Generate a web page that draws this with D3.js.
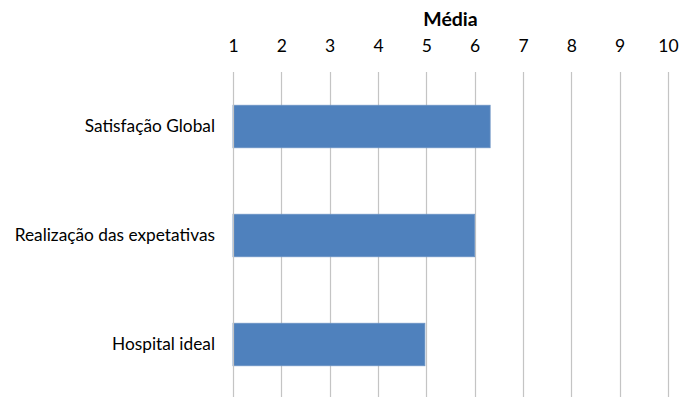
<!DOCTYPE html>
<html>
<head>
<meta charset="utf-8">
<script src="https://cdn.jsdelivr.net/npm/d3@7"></script>
<style>
  html, body { margin: 0; padding: 0; background: #fff; }
  svg { display: block; font-family: Lato, "Open Sans", sans-serif; }
</style>
</head>
<body>
<svg id="chart" width="679" height="397"></svg>
<script>
// Mean scores per item (scale 1–10)
const categories = ["Satisfação Global", "Realização das expetativas", "Hospital ideal"];
const values = [6.32, 6.0, 4.97];
const tickValues = [1, 2, 3, 4, 5, 6, 7, 8, 9, 10];
const axisTitle = "Média";

const svg = d3.select("#chart");
const margin = { top: 72, left: 233 };
const plotRight = 668;
const plotBottom = 399;

const x = d3.scaleLinear().domain([1, 10]).range([margin.left, plotRight]);
const y = d3.scaleBand().domain(categories).range([margin.top, plotBottom])
  .paddingInner(0.61).paddingOuter(0.305);

// vertical gridlines
svg.append("g").selectAll("line").data(tickValues.slice(1)).join("line")
  .attr("x1", d => Math.round(x(d)) + 0.5).attr("x2", d => Math.round(x(d)) + 0.5)
  .attr("y1", margin.top).attr("y2", plotBottom)
  .attr("stroke", "#c4c4c4").attr("stroke-width", 1.2);

// bars
svg.append("g").selectAll("rect").data(categories).join("rect")
  .attr("x", x(1))
  .attr("y", d => y(d))
  .attr("width", (d, i) => x(values[i]) - x(1))
  .attr("height", y.bandwidth())
  .attr("fill", "#4f81bd")
  .attr("stroke", "#6b93c4").attr("stroke-width", 0.8);

// value axis on top
const xAxis = d3.axisTop(x).tickValues(tickValues).tickSize(0).tickPadding(0).tickFormat(d3.format("d"));
const gx = svg.append("g").attr("transform", "translate(0,52)").call(xAxis);
gx.select(".domain").remove();
gx.selectAll("text").attr("font-size", 17.5).attr("fill", "#000").attr("font-family", "Lato, sans-serif").attr("dy", 0);

// category axis on left
const yAxis = d3.axisLeft(y).tickSize(0).tickPadding(18);
const gy = svg.append("g").attr("transform", `translate(${margin.left},0)`).call(yAxis);
gy.select(".domain").attr("stroke", "#c4c4c4").attr("stroke-width", 1.2)
  .attr("d", `M0.5,${margin.top}V${plotBottom}`);
gy.selectAll("text").attr("font-size", 17.3).attr("fill", "#000").attr("font-family", "Lato, sans-serif");

// axis title
svg.append("text")
  .attr("x", (margin.left + plotRight) / 2).attr("y", 26)
  .attr("text-anchor", "middle")
  .attr("font-weight", "bold").attr("font-size", 19.5)
  .attr("font-family", "Lato, sans-serif")
  .text(axisTitle);
</script>
</body>
</html>
